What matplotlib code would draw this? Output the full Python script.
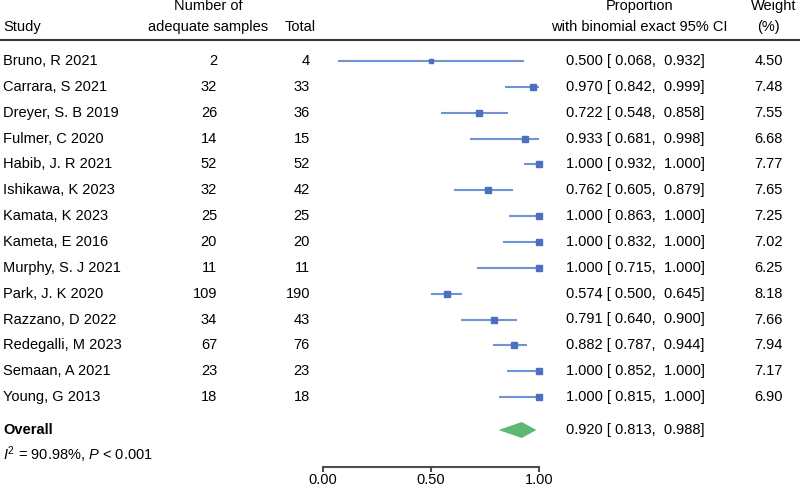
import numpy as np
import matplotlib
matplotlib.use("Agg")
import matplotlib.pyplot as plt
from matplotlib.transforms import blended_transform_factory

plt.rcParams['font.family'] = ['Liberation Sans', 'DejaVu Sans']
plt.rcParams['mathtext.fontset'] = 'custom'
plt.rcParams['mathtext.it'] = 'Liberation Sans:italic'
plt.rcParams['mathtext.rm'] = 'Liberation Sans'

# data
studies = ['Bruno, R 2021', 'Carrara, S 2021', 'Dreyer, S. B 2019', 'Fulmer, C 2020',
           'Habib, J. R 2021', 'Ishikawa, K 2023', 'Kamata, K 2023', 'Kameta, E 2016',
           'Murphy, S. J 2021', 'Park, J. K 2020', 'Razzano, D 2022', 'Redegalli, M 2023',
           'Semaan, A 2021', 'Young, G 2013']
adequate = [2, 32, 26, 14, 52, 32, 25, 20, 11, 109, 34, 67, 23, 18]
total = [4, 33, 36, 15, 52, 42, 25, 20, 11, 190, 43, 76, 23, 18]
prop = [0.500, 0.970, 0.722, 0.933, 1.000, 0.762, 1.000, 1.000, 1.000, 0.574, 0.791, 0.882, 1.000, 1.000]
ci_lo = [0.068, 0.842, 0.548, 0.681, 0.932, 0.605, 0.863, 0.832, 0.715, 0.500, 0.640, 0.787, 0.852, 0.815]
ci_hi = [0.932, 0.999, 0.858, 0.998, 1.000, 0.879, 1.000, 1.000, 1.000, 0.645, 0.900, 0.944, 1.000, 1.000]
weight = [4.50, 7.48, 7.55, 6.68, 7.77, 7.65, 7.25, 7.02, 6.25, 8.18, 7.66, 7.94, 7.17, 6.90]
overall = (0.920, 0.813, 0.988)
het_text = r'$I^2$ = 90.98%, $P$ < 0.001'
xticks = [0.0, 0.5, 1.0]
xticklabels = ['0.00', '0.50', '1.00']

W, H = 800, 488
fig = plt.figure(figsize=(W / 100, H / 100), dpi=100)

row0 = 61.0     # pixel y of first row
step = 25.85    # pixel spacing of rows
axis_px = 467.0

ax = fig.add_axes([323 / W, (H - axis_px) / H, 216 / W, axis_px / H])
ax.set_xlim(0, 1)
ax.set_ylim((axis_px - row0) / step, -row0 / step)

def prow(px):
    return (px - row0) / step

line_c = '#7093D4'
mark_c = '#4A70C0'
diam_c = '#5DB872'
fs = 10.5

rows = np.arange(len(studies))
ax.hlines(rows, ci_lo, ci_hi, color=line_c, lw=1.5, clip_on=False)
for r, p, w in zip(rows, prop, weight):
    ax.plot(p, r, 's', color=mark_c, ms=1.6 * np.sqrt(w), mec=mark_c, clip_on=False)

r_ov = prow(430)
dh = 0.31
ax.fill([overall[1], overall[0], overall[2], overall[0]],
        [r_ov, r_ov - dh, r_ov, r_ov + dh], color=diam_c, lw=0, clip_on=False)

for s in ['top', 'left', 'right']:
    ax.spines[s].set_visible(False)
ax.spines['bottom'].set_bounds(0, 1)
ax.spines['bottom'].set_color('#4d4d4d')
ax.spines['bottom'].set_linewidth(1.5)
ax.set_xticks(xticks)
ax.set_xticklabels(xticklabels, fontsize=fs)
ax.tick_params(axis='x', length=3.5, width=1.5, color='#4d4d4d', pad=1)
ax.set_yticks([])
ax.patch.set_visible(False)

tr = blended_transform_factory(fig.transFigure, ax.transData)
def fx(px):
    return px / W

# headers
ax.text(fx(3), prow(27), 'Study', transform=tr, fontsize=fs, va='center', ha='left')
ax.text(fx(208), prow(6), 'Number of', transform=tr, fontsize=fs, va='center', ha='center')
ax.text(fx(208), prow(27), 'adequate samples', transform=tr, fontsize=fs, va='center', ha='center')
ax.text(fx(300), prow(27), 'Total', transform=tr, fontsize=fs, va='center', ha='center')
ax.text(fx(640), prow(6), 'Proportion', transform=tr, fontsize=fs, va='center', ha='center')
ax.text(fx(639), prow(27), 'with binomial exact 95% CI', transform=tr, fontsize=fs, va='center', ha='center')
ax.text(fx(774), prow(6), 'Weight', transform=tr, fontsize=fs, va='center', ha='center')
ax.text(fx(768), prow(27), '(%)', transform=tr, fontsize=fs, va='center', ha='center')
ax.plot([0, 1], [prow(39.5)] * 2, transform=tr, color='#333333', lw=1.5, clip_on=False)

for r in rows:
    ax.text(fx(3), r, studies[r], transform=tr, fontsize=fs, va='center', ha='left')
    ax.text(fx(217), r, str(adequate[r]), transform=tr, fontsize=fs, va='center', ha='right')
    ax.text(fx(310), r, str(total[r]), transform=tr, fontsize=fs, va='center', ha='right')
    ax.text(fx(566), r, f'{prop[r]:.3f} [ {ci_lo[r]:.3f},  {ci_hi[r]:.3f}]', transform=tr,
            fontsize=fs, va='center', ha='left')
    ax.text(fx(783), r, f'{weight[r]:.2f}', transform=tr, fontsize=fs, va='center', ha='right')

ax.text(fx(3), r_ov, 'Overall', transform=tr, fontsize=fs, va='center', ha='left', fontweight='bold')
ax.text(fx(566), r_ov, f'{overall[0]:.3f} [ {overall[1]:.3f},  {overall[2]:.3f}]', transform=tr,
        fontsize=fs, va='center', ha='left')
ax.text(fx(3), prow(455), het_text, transform=tr, fontsize=fs, va='center', ha='left')

fig.savefig('out.png', dpi=100)
